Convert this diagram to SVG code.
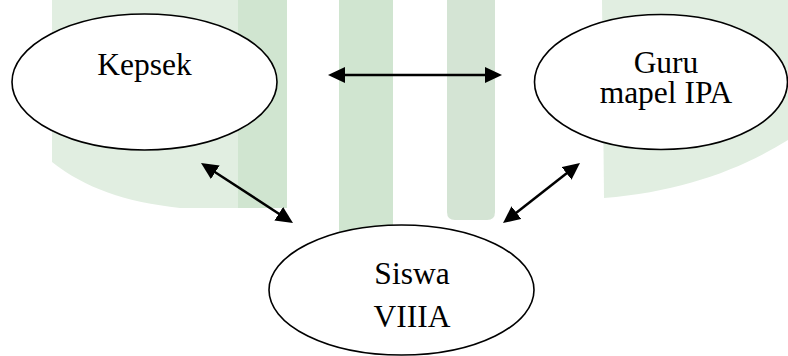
<svg xmlns="http://www.w3.org/2000/svg" width="788" height="356" viewBox="0 0 788 356">
  <style>
    .node ellipse { fill: #ffffff; stroke: #000000; stroke-width: 1.6; }
    .node text { font-family: "Liberation Serif", "Times New Roman", serif; font-size: 31.5px; fill: #000000; text-anchor: middle; }
    .edge { stroke: #000000; stroke-width: 2.5; fill: none; marker-start: url(#head); marker-end: url(#head); }
    .wm-pale { fill: #e1eee1; }
    .wm-mid { fill: #d0e5d0; }
    .wm-grey { fill: #d4e4d4; }
  </style>
  <defs>
    <marker id="head" markerUnits="userSpaceOnUse" markerWidth="20" markerHeight="18" refX="7" refY="8" orient="auto-start-reverse">
      <path d="M0,0 L17,8 L0,16 Z" fill="#000000"/>
    </marker>
  </defs>

  <rect width="788" height="356" fill="#ffffff"/>

  <!-- faint background emblem -->
  <g id="background-emblem">
    <path class="wm-pale" d="M52,0 H287 V208 H180 C125,202 85,188 52,162 Z"/>
    <rect class="wm-mid" x="238" y="0" width="49" height="208"/>
    <rect class="wm-mid" x="339" y="0" width="54" height="240"/>
    <path class="wm-grey" d="M447,0 H495 V212 Q495,220 487,220 H455 Q447,220 447,212 Z"/>
    <path class="wm-pale" d="M602,0 H788 V140 C740,170 680,192 604,198 Z"/>
  </g>

  <g id="connectors">
    <line class="edge" x1="338" y1="75" x2="492" y2="75"/>
    <line class="edge" x1="209.4" y1="168.5" x2="284.6" y2="217.5"/>
    <line class="edge" x1="572.1" y1="169.1" x2="510.9" y2="216.9"/>
  </g>

  <g id="kepsek" class="node">
    <ellipse cx="144.5" cy="82" rx="132.5" ry="68"/>
    <text x="144.5" y="75">Kepsek</text>
  </g>

  <g id="guru-ipa" class="node">
    <ellipse cx="661" cy="82" rx="126.5" ry="67.5"/>
    <text x="666" y="73">Guru</text>
    <text x="666" y="103">mapel IPA</text>
  </g>

  <g id="siswa-viiia" class="node">
    <ellipse cx="401.5" cy="290" rx="132.5" ry="65"/>
    <text x="412" y="284">Siswa</text>
    <text x="412" y="327">VIIIA</text>
  </g>
</svg>
